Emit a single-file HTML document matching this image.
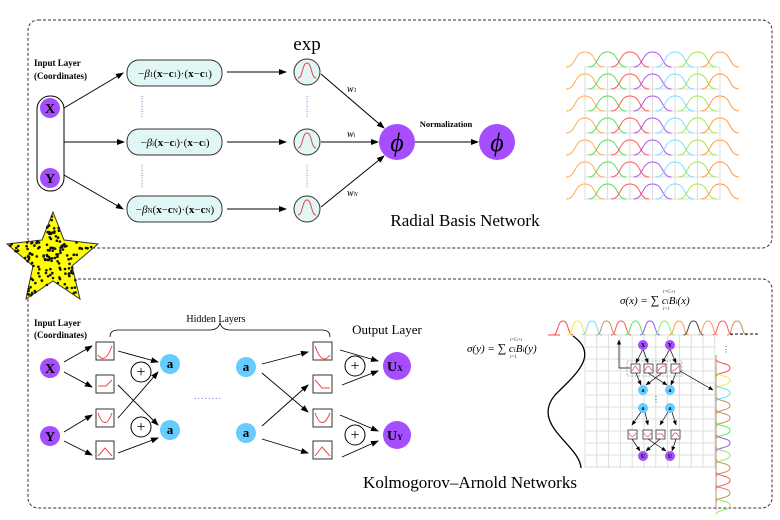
<!DOCTYPE html>
<html><head><meta charset="utf-8"><style>
html,body{margin:0;padding:0;background:#fff}
svg{display:block}
text{font-family:"Liberation Serif",serif}
</style></head><body>
<svg id="s" width="780" height="520" viewBox="0 0 780 520" xmlns="http://www.w3.org/2000/svg">
<defs>
<marker id="ar" markerWidth="8" markerHeight="6" refX="7" refY="3" orient="auto" markerUnits="userSpaceOnUse"><path d="M0,0L8,3L0,6z" fill="#000"/></marker>
<marker id="ar2" markerWidth="5" markerHeight="4" refX="4.5" refY="2" orient="auto" markerUnits="userSpaceOnUse"><path d="M0,0L5,2L0,4z" fill="#000"/></marker>
</defs>
<!-- boxes -->
<rect x="28" y="20" width="744" height="228" rx="10" fill="none" stroke="#333" stroke-dasharray="3,2"/>
<rect x="28" y="279" width="744" height="229" rx="10" fill="none" stroke="#333" stroke-dasharray="3,2"/>

<!-- TOP -->
<text x="34" y="66" font-size="9" font-weight="bold">Input Layer</text>
<text x="34" y="79" font-size="9" font-weight="bold">(Coordinates)</text>
<rect x="37" y="96" width="27" height="95" rx="13" fill="#fff" stroke="#000"/>
<circle cx="50" cy="108" r="10" fill="#a64dff"/><text x="50" y="113" font-size="14" font-weight="bold" text-anchor="middle">X</text>
<circle cx="50" cy="178" r="10" fill="#a64dff"/><text x="50" y="183" font-size="14" font-weight="bold" text-anchor="middle">Y</text>
<g stroke="#000" fill="none" marker-end="url(#ar)">
<line x1="64" y1="108" x2="123" y2="73"/><line x1="64" y1="142" x2="124" y2="142"/><line x1="64" y1="175" x2="123" y2="209"/>
<line x1="227" y1="72" x2="286" y2="72"/><line x1="227" y1="142" x2="286" y2="142"/><line x1="227" y1="209" x2="286" y2="209"/>
<line x1="321" y1="74" x2="384" y2="128"/><line x1="321" y1="142" x2="378" y2="142"/><line x1="321" y1="207" x2="384" y2="156"/>
<line x1="415" y1="142" x2="478" y2="142"/>
</g>
<g fill="#e0f7f5" stroke="#333">
<rect x="127" y="60" width="95" height="26" rx="12"/><rect x="127" y="129" width="95" height="26" rx="12"/><rect x="127" y="196" width="95" height="26" rx="12"/>
</g>
<g font-size="11" text-anchor="middle">
<text x="175" y="77">−<tspan font-style="italic">β</tspan><tspan font-size="7">1</tspan>(<tspan font-weight="bold">x</tspan>−<tspan font-weight="bold">c</tspan><tspan font-size="7">1</tspan>)·(<tspan font-weight="bold">x</tspan>−<tspan font-weight="bold">c</tspan><tspan font-size="7">1</tspan>)</text>
<text x="175" y="146">−<tspan font-style="italic">β</tspan><tspan font-size="7">i</tspan>(<tspan font-weight="bold">x</tspan>−<tspan font-weight="bold">c</tspan><tspan font-size="7">i</tspan>)·(<tspan font-weight="bold">x</tspan>−<tspan font-weight="bold">c</tspan><tspan font-size="7">i</tspan>)</text>
<text x="175" y="213">−<tspan font-style="italic">β</tspan><tspan font-size="7">N</tspan>(<tspan font-weight="bold">x</tspan>−<tspan font-weight="bold">c</tspan><tspan font-size="7">N</tspan>)·(<tspan font-weight="bold">x</tspan>−<tspan font-weight="bold">c</tspan><tspan font-size="7">N</tspan>)</text>
</g>
<g stroke="#6a8fc8" stroke-dasharray="1,1.5"><line x1="142" y1="96" x2="142" y2="118"/><line x1="142" y1="165" x2="142" y2="188"/><line x1="307" y1="96" x2="307" y2="118"/><line x1="307" y1="165" x2="307" y2="188"/></g>
<text x="307" y="50" font-size="19" text-anchor="middle">exp</text>
<g fill="#e0f7f5" stroke="#333"><circle cx="307" cy="72" r="13"/><circle cx="307" cy="142" r="13"/><circle cx="307" cy="209" r="13"/></g>
<g fill="none" stroke="#e44" stroke-width="1"><path d="M298,78 C303,78 302,63 307,63 C312,63 311,78 316,78"/><path d="M298,148 C303,148 302,133 307,133 C312,133 311,148 316,148"/><path d="M298,215 C303,215 302,200 307,200 C312,200 311,215 316,215"/></g>
<g font-size="10" font-style="italic"><text x="347" y="92">w<tspan font-size="6">1</tspan></text><text x="347" y="137">w<tspan font-size="6">i</tspan></text><text x="347" y="196">w<tspan font-size="6">N</tspan></text></g>
<circle cx="397" cy="142" r="18" fill="#a64dff"/><text x="397" y="151" font-size="26" font-style="italic" text-anchor="middle">ϕ</text>
<circle cx="497" cy="142" r="18" fill="#a64dff"/><text x="497" y="151" font-size="26" font-style="italic" text-anchor="middle">ϕ</text>
<text x="446" y="127" font-size="8.5" font-weight="bold" text-anchor="middle">Normalization</text>
<text x="465" y="226" font-size="17" text-anchor="middle">Radial Basis Network</text>
<g id="rbfgrid" stroke="#ddd" fill="none"></g>
<g id="rbfw" fill="none" stroke-width="1"></g>

<!-- STAR -->
<path d="M53,212 L64,240 L98,244 L72,266 L80,299 L53,281 L26,299 L33,266 L7,244 L42,240Z" fill="#ffff00" stroke="#333"/>
<g id="dots" fill="#111"></g>

<!-- BOTTOM -->
<text x="34" y="326" font-size="9" font-weight="bold">Input Layer</text>
<text x="34" y="338" font-size="9" font-weight="bold">(Coordinates)</text>
<text x="216" y="322" font-size="10" text-anchor="middle">Hidden Layers</text>
<path d="M110,337 Q110,330 118,330 L210,330 Q218,330 220,323 Q222,330 230,330 L322,330 Q330,330 330,337" fill="none" stroke="#000" stroke-width="0.8"/>
<text x="387" y="334" font-size="13" text-anchor="middle">Output Layer</text>
<circle cx="50" cy="368" r="10" fill="#a64dff"/><text x="50" y="373" font-size="14" font-weight="bold" text-anchor="middle">X</text>
<circle cx="50" cy="436" r="10" fill="#a64dff"/><text x="50" y="441" font-size="14" font-weight="bold" text-anchor="middle">Y</text>
<g stroke="#000" fill="none" marker-end="url(#ar)" stroke-width="0.9">
<line x1="64" y1="362" x2="92" y2="346"/><line x1="64" y1="372" x2="92" y2="387"/>
<line x1="64" y1="432" x2="92" y2="415"/><line x1="64" y1="441" x2="92" y2="455"/>
<line x1="118" y1="351" x2="158" y2="362"/><line x1="118" y1="385" x2="158" y2="425"/>
<line x1="118" y1="418" x2="158" y2="372"/><line x1="118" y1="453" x2="158" y2="438"/>
<line x1="262" y1="364" x2="308" y2="352"/><line x1="262" y1="373" x2="308" y2="412"/>
<line x1="262" y1="426" x2="308" y2="385"/><line x1="262" y1="439" x2="308" y2="453"/>
<line x1="340" y1="350" x2="378" y2="361"/><line x1="342" y1="385" x2="378" y2="371"/>
<line x1="340" y1="415" x2="378" y2="431"/><line x1="342" y1="457" x2="378" y2="441"/>
</g>
<g fill="#fff" stroke="#333">
<rect x="96" y="342" width="18" height="18"/><rect x="96" y="375" width="18" height="18"/><rect x="96" y="409" width="18" height="18"/><rect x="96" y="441" width="18" height="18"/>
<rect x="313" y="342" width="19" height="18"/><rect x="313" y="375" width="19" height="18"/><rect x="313" y="409" width="19" height="18"/><rect x="313" y="441" width="19" height="18"/>
</g>
<g fill="none" stroke="#e44">
<path d="M98,355 Q105,365 112,346"/><path d="M98,386 L106,386 L112,380"/><path d="M98,413 Q105,432 112,413"/><path d="M98,456 L105,448 L112,456"/>
<path d="M315,346 Q322,366 330,355"/><path d="M315,380 L322,388 L330,388"/><path d="M315,413 Q322,432 330,413"/><path d="M315,456 L322,447 L330,456"/>
</g>
<g fill="#fff" stroke="#000"><circle cx="141" cy="372" r="10"/><circle cx="141" cy="427" r="10"/><circle cx="355" cy="366" r="10"/><circle cx="355" cy="435" r="10"/></g>
<g font-size="16" text-anchor="middle"><text x="141" y="377">+</text><text x="141" y="432">+</text><text x="355" y="371">+</text><text x="355" y="440">+</text></g>
<g fill="#66ccff"><circle cx="170" cy="364" r="10"/><circle cx="170" cy="430" r="10"/><circle cx="246" cy="367" r="10"/><circle cx="246" cy="433" r="10"/></g>
<g font-size="13" font-weight="bold" text-anchor="middle"><text x="170" y="368">a</text><text x="170" y="434">a</text><text x="246" y="371">a</text><text x="246" y="437">a</text></g>
<text x="208" y="399" font-size="10" fill="#6a8fc8" text-anchor="middle" letter-spacing="1">........</text>
<circle cx="397" cy="366" r="14" fill="#a64dff"/><text x="395" y="371" font-size="14" font-weight="bold" text-anchor="middle">U<tspan font-size="8">X</tspan></text>
<circle cx="397" cy="435" r="14" fill="#a64dff"/><text x="395" y="440" font-size="14" font-weight="bold" text-anchor="middle">U<tspan font-size="8">Y</tspan></text>
<text x="470" y="488" font-size="17" text-anchor="middle">Kolmogorov–Arnold Networks</text>

<!-- KAN right -->
<g id="kgrid" stroke="#ddd" fill="none"></g>
<path d="M573,336 C600,355 575,375 555,395 C530,425 580,445 581,468" fill="none" stroke="#000" stroke-width="1.3"/>
<g id="kw" fill="none" stroke-width="1"></g>
<line x1="730" y1="334" x2="758" y2="334" stroke="#000" stroke-dasharray="3,2"/>
<text x="726" y="352" font-size="8" text-anchor="middle" fill="#345">⋮</text>
<g font-size="11" font-style="italic">
<text x="620" y="304">σ(x) = <tspan font-style="normal" font-size="12">∑</tspan> c<tspan font-size="7">i</tspan>B<tspan font-size="7">i</tspan>(x)</text>
<text x="467" y="352">σ(y) = <tspan font-style="normal" font-size="12">∑</tspan> c<tspan font-size="7">i</tspan>B<tspan font-size="7">i</tspan>(y)</text>
</g>
<g font-size="5" fill="#333"><text x="663" y="293">i=G+r</text><text x="663" y="310">i=1</text><text x="510" y="341">i=G+r</text><text x="510" y="358">i=1</text></g>
<!-- mini net -->
<g stroke="#000" fill="none" stroke-width="0.7" marker-end="url(#ar2)">
<line x1="643" y1="349" x2="636" y2="363"/><line x1="643" y1="349" x2="648" y2="363"/><line x1="670" y1="349" x2="662" y2="363"/><line x1="670" y1="349" x2="676" y2="363"/>
<line x1="636" y1="373" x2="641" y2="385"/><line x1="648" y1="373" x2="667" y2="385"/><line x1="662" y1="373" x2="646" y2="385"/><line x1="676" y1="373" x2="671" y2="385"/>
<line x1="641" y1="412" x2="632" y2="425"/><line x1="645" y1="412" x2="648" y2="425"/><line x1="668" y1="412" x2="660" y2="425"/><line x1="672" y1="412" x2="676" y2="425"/>
<line x1="632" y1="439" x2="640" y2="451"/><line x1="648" y1="439" x2="666" y2="451"/><line x1="660" y1="439" x2="646" y2="451"/><line x1="676" y1="439" x2="672" y2="451"/>
<polyline points="630,368 619,368 619,340"/><line x1="680" y1="371" x2="713" y2="390"/>
</g>
<rect x="627" y="361" width="55" height="15" fill="none" stroke="#678" stroke-dasharray="2,1.5" stroke-width="0.6"/>
<g fill="#fff" stroke="#333" stroke-width="0.8">
<rect x="631" y="364" width="9" height="9"/><rect x="644" y="364" width="9" height="9"/><rect x="657" y="364" width="9" height="9"/><rect x="671" y="364" width="9" height="9"/>
<rect x="628" y="430" width="9" height="9"/><rect x="643" y="430" width="9" height="9"/><rect x="656" y="430" width="9" height="9"/><rect x="671" y="430" width="9" height="9"/>
</g>
<g fill="none" stroke="#e44" stroke-width="0.7">
<path d="M632,371 L635,366 L639,371"/><path d="M645,371 Q648,362 652,371"/><path d="M658,371 Q661,366 665,366"/><path d="M672,371 Q676,370 679,366"/>
<path d="M629,433 Q632,440 636,433"/><path d="M644,433 Q648,440 651,433"/><path d="M657,434 L662,434 L664,437"/><path d="M672,437 Q675,429 679,437"/>
</g>
<g fill="#a64dff"><circle cx="643" cy="345" r="5"/><circle cx="670" cy="345" r="5"/><circle cx="643" cy="456" r="5"/><circle cx="670" cy="456" r="5"/></g>
<g fill="#66ccff"><circle cx="643" cy="390" r="5"/><circle cx="670" cy="390" r="5"/><circle cx="643" cy="408" r="5"/><circle cx="670" cy="408" r="5"/></g>
<g font-size="6" font-weight="bold" text-anchor="middle"><text x="643" y="347">X</text><text x="670" y="347">Y</text><text x="643" y="392">a</text><text x="670" y="392">a</text><text x="643" y="410">a</text><text x="670" y="410">a</text><text x="643" y="458">U</text><text x="670" y="458">U</text></g>
<text x="656" y="402" font-size="8" text-anchor="middle" fill="#345">⋮</text>
</svg>
<script>
var NS="http://www.w3.org/2000/svg";
function el(p,t,a){var e=document.createElementNS(NS,t);for(var k in a)e.setAttribute(k,a[k]);document.getElementById(p).appendChild(e);return e;}
function bumpH(c,y,w,h){return "M"+(c-w)+","+y+" C"+(c-w*0.45)+","+y+" "+(c-w*0.6)+","+(y-h)+" "+c+","+(y-h)+" C"+(c+w*0.6)+","+(y-h)+" "+(c+w*0.45)+","+y+" "+(c+w)+","+y;}
function bumpV(c,x,w,h){return "M"+x+","+(c-w)+" C"+x+","+(c-w*0.45)+" "+(x+h)+","+(c-w*0.6)+" "+(x+h)+","+c+" C"+(x+h)+","+(c+w*0.6)+" "+x+","+(c+w*0.45)+" "+x+","+(c+w);}
// RBF grid
for(var i=0;i<=6;i++){el("rbfgrid","line",{x1:585+i*22.5,y1:67,x2:585+i*22.5,y2:200});}
for(var r=0;r<7;r++){el("rbfgrid","line",{x1:585,y1:67+r*22,x2:720,y2:67+r*22});}
var cols=["#ffaa55","#55dd55","#ff5555","#aa55ee","#77ddff","#99ee44","#ff9944"];
for(var r=0;r<7;r++){var y=67+r*22;for(var k=0;k<7;k++){var c=585+k*22.5;el("rbfw","path",{d:bumpH(c,y,19,15),stroke:cols[k]});}}
// KAN grid
for(var i=0;i<=11;i++){el("kgrid","line",{x1:585+i*11.8,y1:335,x2:585+i*11.8,y2:468});}
for(var i=0;i<=11;i++){el("kgrid","line",{x1:585,y1:335+i*12,x2:715,y2:335+i*12});}
var kc=["#ff4444","#eeee33","#66ddff","#c09060","#ff5555","#55ee55","#9955ee","#88ee66","#ff9944","#444444","#ff9966","#ff5555","#c09060"];
for(var k=0;k<13;k++){el("kw","path",{d:bumpH(563+k*14.5,335,10,14),stroke:kc[k]});}
el("kw","line",{x1:548,y1:335,x2:560,y2:335,stroke:"#ff4444"});
var vc=["#ff4444","#eeee33","#66ddff","#c09060","#c09060","#55ee55","#9955ee","#88ee66","#c09060","#ff5555","#c09060","#88ee66"];
for(var k=0;k<12;k++){el("kw","path",{d:bumpV(368+k*12.5,716,9,14),stroke:vc[k]});}
el("kw","line",{x1:716,y1:355,x2:716,y2:510,stroke:"#c09060"});
// star dots
var seed=7;function rnd(){seed=(seed*9301+49297)%233280;return seed/233280;}
var st=document.querySelector("path[fill='#ffff00']");
for(var n=0;n<420;n++){var x=7+rnd()*91,y=212+rnd()*87;
 if(st.isPointInFill&&st.isPointInFill(new DOMPoint(x,y))) el("dots","circle",{cx:x.toFixed(1),cy:y.toFixed(1),r:1.3});}
</script>
</body></html>
